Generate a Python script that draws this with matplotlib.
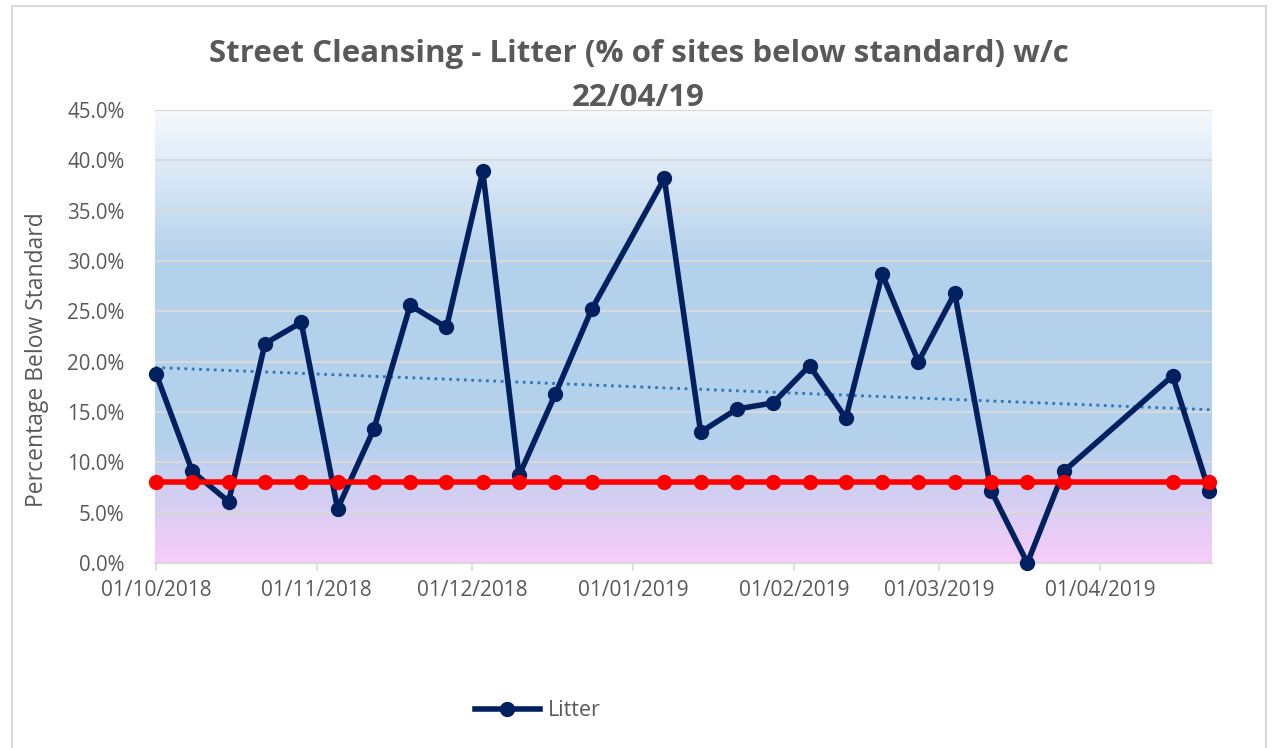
import numpy as np
import matplotlib
matplotlib.use("Agg")
import matplotlib.pyplot as plt
import matplotlib.dates as mdates
from matplotlib.colors import LinearSegmentedColormap
from matplotlib.patches import Rectangle
from datetime import datetime

plt.rcParams["font.family"] = ["Open Sans", "DejaVu Sans"]

# weekly survey dates (w/c) - a few weeks have no data
week_dates = ["01/10/2018", "08/10/2018", "15/10/2018", "22/10/2018", "29/10/2018",
              "05/11/2018", "12/11/2018", "19/11/2018", "26/11/2018", "03/12/2018",
              "10/12/2018", "17/12/2018", "24/12/2018", "07/01/2019", "14/01/2019",
              "21/01/2019", "28/01/2019", "04/02/2019", "11/02/2019", "18/02/2019",
              "25/02/2019", "04/03/2019", "11/03/2019", "18/03/2019", "25/03/2019",
              "15/04/2019", "22/04/2019"]
litter = [18.8, 9.1, 6.1, 21.8, 23.9, 5.4, 13.3, 25.6, 23.4, 38.9,
          8.7, 16.8, 25.2, 38.2, 13.0, 15.3, 15.9, 19.6, 14.4, 28.7,
          20.0, 26.8, 7.2, 0.0, 9.1, 18.6, 7.2]
target = [8.0] * len(week_dates)

dates = [datetime.strptime(d, "%d/%m/%Y") for d in week_dates]
x = mdates.date2num(dates)
y = np.array(litter) / 100
t = np.array(target) / 100

fig = plt.figure(figsize=(12.72, 7.48), dpi=100)
ax = fig.add_axes([155 / 1272, 1 - 563 / 748, (1212 - 155) / 1272, (563 - 110) / 748])

# outer chart border
fig.patches.append(Rectangle((12 / 1272, -0.05), (1266 - 12) / 1272, 1.05 - 6 / 748,
                             transform=fig.transFigure, fill=False,
                             edgecolor="#D9D9D9", linewidth=1.5))

xmin = mdates.date2num(datetime(2018, 10, 1)) - 0.2
xmax = mdates.date2num(datetime(2019, 4, 22)) + 0.6
ax.set_xlim(xmin, xmax)
ax.set_ylim(0, 0.45)

# gradient background: white top -> blue -> pink bottom
cmap = LinearSegmentedColormap.from_list("bg", [(0.0, "#F7CCF9"), (0.27, "#B4D1EC"),
                                                (0.67, "#B4D1EC"), (1.0, "#F5F9FD")])
grad = np.linspace(0, 1, 256).reshape(-1, 1)
ax.imshow(grad, aspect="auto", cmap=cmap, origin="lower",
          extent=[xmin, xmax, 0, 0.45], zorder=0)

ax.set_yticks(np.arange(0, 0.451, 0.05))
ax.yaxis.set_major_formatter(matplotlib.ticker.FuncFormatter(lambda v, p: f"{v * 100:.1f}%"))
ax.grid(axis="y", color="#D9D9D9", linewidth=1.5, zorder=1)
ax.set_axisbelow(False)

ax.xaxis.set_major_locator(mdates.MonthLocator())
ax.xaxis.set_major_formatter(mdates.DateFormatter("%d/%m/%Y"))

for s in ["top", "right", "left"]:
    ax.spines[s].set_visible(False)
ax.spines["bottom"].set_color("#D9D9D9")
ax.spines["bottom"].set_linewidth(1.5)
ax.tick_params(axis="y", length=0, pad=22, labelsize=14.8, labelcolor="#595959")
ax.tick_params(axis="x", length=6, width=1.2, color="#D9D9D9", pad=6,
               labelsize=15, labelcolor="#595959")

# linear trendline of the litter series
coef = np.polyfit(x, y, 1)
ax.plot([xmin, xmax], np.polyval(coef, [xmin, xmax]), linestyle=":", color="#2E75B6",
        linewidth=2, zorder=2)

ax.plot(x, y, color="#002060", linewidth=4, marker="o", markersize=10,
        label="Litter", zorder=3, clip_on=False)
ax.plot(x, t, color="#FF0000", linewidth=4, marker="o", markersize=10,
        zorder=4, clip_on=False)

ax.set_ylabel("Percentage Below Standard", fontsize=16.5, color="#595959")
ax.yaxis.set_label_coords(-0.1, 0.45)

fig.text(0.502, 1 - 54 / 748, "Street Cleansing - Litter (% of sites below standard) w/c",
         ha="center", va="center", fontsize=22.5, fontweight="bold", color="#595959")
fig.text(0.502, 1 - 98 / 748, "22/04/19", ha="center", va="center",
         fontsize=22.5, fontweight="bold", color="#595959")

leg = fig.legend(loc="center", bbox_to_anchor=(538 / 1272, 1 - 711 / 748), frameon=False,
                 fontsize=15.5, handlelength=3.0, handletextpad=0.4, labelcolor="#595959")

fig.savefig("out.png", dpi=100)
